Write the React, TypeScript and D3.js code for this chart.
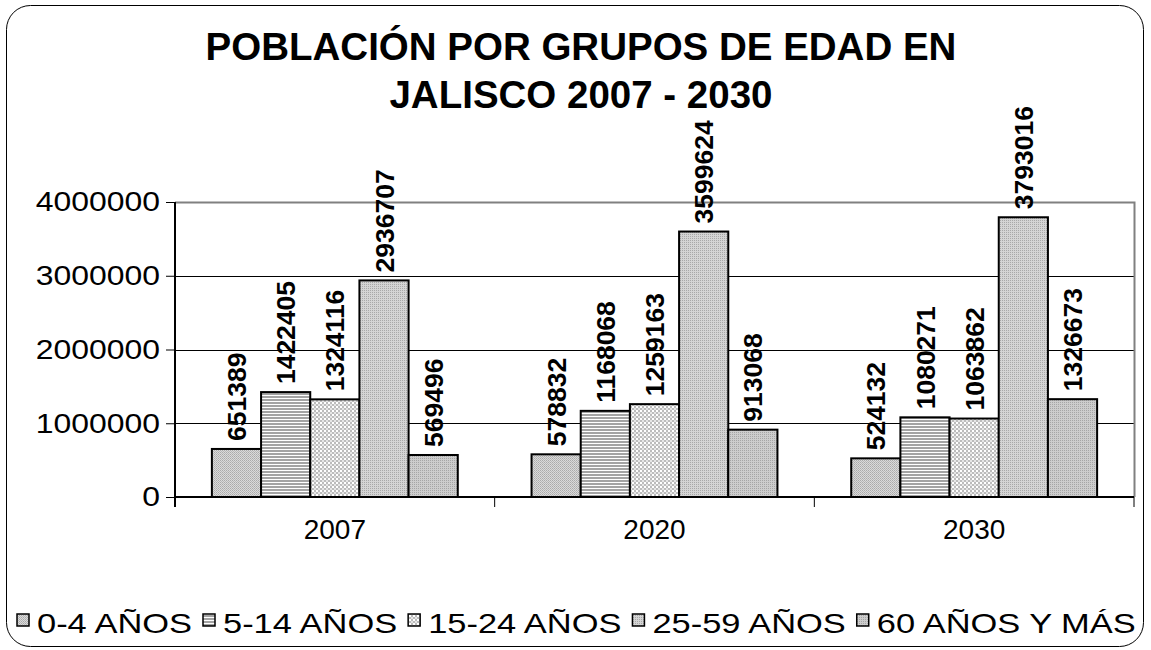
import { useEffect, useRef } from 'react';
import * as d3 from 'd3';

const years = ['2007', '2020', '2030'];
const groups = ['0-4 AÑOS', '5-14 AÑOS', '15-24 AÑOS', '25-59 AÑOS', '60 AÑOS Y MÁS'];
const age0to4 = [651389, 578832, 524132];
const age5to14 = [1422405, 1168068, 1080271];
const age15to24 = [1324116, 1259163, 1063862];
const age25to59 = [2936707, 3599624, 3793016];
const age60plus = [569496, 913068, 1326673];
const yTicks = [0, 1000000, 2000000, 3000000, 4000000];

const series = [age0to4, age5to14, age15to24, age25to59, age60plus];

const App = () => {
  const svgRef = useRef<SVGSVGElement>(null);

  useEffect(() => {
    const width = 1151;
    const height = 650;
    const margin = { top: 202, right: 17, bottom: 153, left: 175 };
    const font = 'Liberation Sans, Arial, sans-serif';

    const svg = d3.select(svgRef.current);
    svg.selectAll('*').remove();
    svg.attr('width', width).attr('height', height);

    // fill patterns for the five age groups
    const defs = svg.append('defs');
    const pat = (id: string, w: number, h: number, bg: string, cells: [number, number, number, number, string][]) => {
      const p = defs.append('pattern').attr('id', id).attr('patternUnits', 'userSpaceOnUse')
        .attr('width', w).attr('height', h);
      p.append('rect').attr('width', w).attr('height', h).attr('fill', bg);
      cells.forEach(([x, y, cw, ch, c]) => p.append('rect').attr('x', x).attr('y', y).attr('width', cw).attr('height', ch).attr('fill', c));
    };
    pat('p0', 2, 2, '#dadada', [[0, 0, 1, 1, '#aaaaaa'], [1, 1, 1, 1, '#b8b8b8']]);
    pat('p1', 3, 3, '#ffffff', [[0, 0, 3, 2, '#a4a4a4']]);
    pat('p2', 4, 4, '#ffffff', [[0, 0, 2, 2, '#bcbcbc'], [2, 2, 2, 2, '#bcbcbc'], [2, 0, 2, 2, '#e6e6e6']]);
    pat('p3', 2, 2, '#d4d4d4', [[0, 0, 1, 1, '#a8a8a8']]);
    pat('p4', 2, 2, '#cdcdcd', [[0, 0, 1, 1, '#a6a6a6']]);
    const fills = ['url(#p0)', 'url(#p1)', 'url(#p2)', 'url(#p3)', 'url(#p4)'];

    // chart border
    svg.append('rect').attr('x', 6.5).attr('y', 5.5).attr('width', 1137).attr('height', 641)
      .attr('rx', 24).attr('fill', '#fff').attr('stroke', '#000').attr('stroke-width', 1);

    // title
    const title = svg.append('text').attr('text-anchor', 'middle').attr('font-family', font)
      .attr('font-weight', 'bold').attr('font-size', 38.5).attr('fill', '#000');
    title.append('tspan').attr('x', 581).attr('y', 60).text('POBLACIÓN POR GRUPOS DE EDAD EN');
    title.append('tspan').attr('x', 581).attr('y', 108).text('JALISCO 2007 - 2030');

    const x0 = d3.scaleBand().domain(years).range([margin.left, width - margin.right]).padding(0);
    const x1 = d3.scaleBand().domain(groups).range([0, x0.bandwidth()]).paddingInner(0).paddingOuter(0.75);
    const y = d3.scaleLinear().domain([0, 4000000]).range([height - margin.bottom, margin.top]);

    const plotL = margin.left;
    const plotR = width - margin.right;
    const plotB = height - margin.bottom;

    // gridlines
    svg.append('g').selectAll('line').data(yTicks.filter(t => t > 0 && t < 4000000)).join('line')
      .attr('x1', plotL).attr('x2', plotR).attr('y1', d => Math.round(y(d)) + 0.5).attr('y2', d => Math.round(y(d)) + 0.5)
      .attr('stroke', '#000').attr('stroke-width', 1);
    // plot frame top/right
    svg.append('path').attr('d', `M${plotL},${y(4000000) + 0.5}H${plotR + 0.5}V${plotB}`)
      .attr('fill', 'none').attr('stroke', '#808080').attr('stroke-width', 2);

    // bars
    const g = svg.append('g');
    years.forEach((yr, i) => {
      groups.forEach((grp, j) => {
        const v = series[j][i];
        const bx = x0(yr)! + x1(grp)!;
        g.append('rect').attr('x', bx).attr('y', y(v)).attr('width', x1.bandwidth())
          .attr('height', plotB - y(v)).attr('fill', fills[j]).attr('stroke', '#000').attr('stroke-width', 2);
        g.append('text').attr('transform', `translate(${bx + x1.bandwidth() / 2},${y(v) - 8}) rotate(-90)`)
          .attr('dy', '0.36em').attr('font-family', font).attr('font-weight', 'bold').attr('font-size', 26.5)
          .attr('fill', '#000').text(String(v));
      });
    });

    // y axis
    const ys = 1.14;
    const yAxis = svg.append('g').attr('transform', `translate(${plotL},0)`)
      .call(d3.axisLeft(y).tickValues(yTicks).tickSize(9).tickPadding(6).tickFormat(d => String(d)));
    yAxis.select('.domain').attr('stroke', '#000').attr('stroke-width', 2).attr('d', `M0,${y(4000000)}V${plotB + 10}`);
    yAxis.selectAll('.tick line').attr('stroke', '#000').attr('stroke-width', 1);
    yAxis.selectAll('.tick text').attr('font-family', font).attr('font-size', 28).attr('fill', '#000')
      .attr('x', -15 / ys).attr('transform', `scale(${ys},1)`);

    // x axis
    const xAxis = svg.append('g').attr('transform', `translate(0,${plotB})`)
      .call(d3.axisBottom(x0).tickSize(0).tickPadding(22));
    xAxis.select('.domain').attr('stroke', '#000').attr('stroke-width', 2).attr('d', `M${plotL},0H${plotR}`);
    xAxis.selectAll('.tick text').attr('font-family', font).attr('font-size', 28).attr('fill', '#000');
    xAxis.selectAll('line.sep').data([...years.map(d => x0(d)!), plotR]).join('line').attr('class', 'sep')
      .attr('x1', d => d).attr('x2', d => d).attr('y1', 0).attr('y2', 10).attr('stroke', '#000').attr('stroke-width', 1);

    // legend (text is stretched horizontally like the source)
    const ls = 1.23;
    const legend = svg.append('g').attr('transform', 'translate(17,633)');
    let lx = 0;
    groups.forEach((grp, j) => {
      legend.append('rect').attr('x', lx).attr('y', -19).attr('width', 12).attr('height', 12)
        .attr('fill', fills[j]).attr('stroke', '#000').attr('stroke-width', 1.5);
      const t = legend.append('text').attr('transform', `translate(${lx + 20},0) scale(${ls},1)`)
        .attr('font-family', font).attr('font-size', 28).attr('fill', '#000').text(grp);
      const w = (t.node() as SVGTextElement).getComputedTextLength() * ls;
      lx += 20 + w + 11;
    });
  }, []);

  return (
    <svg ref={svgRef} style={{ position: 'absolute', left: 0, top: 0 }}></svg>
  );
};

export default App;
